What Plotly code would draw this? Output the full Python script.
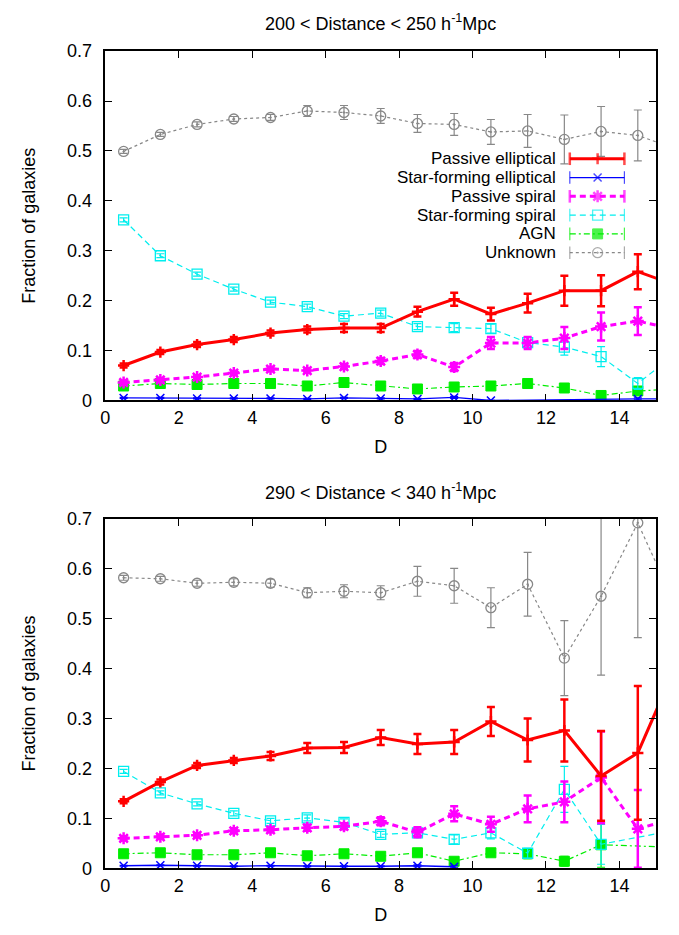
import plotly.graph_objects as go

# ---------------- data ----------------
D = [0.5, 1.5, 2.5, 3.5, 4.5, 5.5, 6.5, 7.5, 8.5, 9.5, 10.5, 11.5, 12.5, 13.5, 14.5, 15.5]

# Panel 1: 200 < Distance < 250
p1_pe = [0.070, 0.097, 0.112, 0.122, 0.135, 0.142, 0.145, 0.145, 0.178, 0.203, 0.173, 0.195, 0.220, 0.220, 0.258, 0.232]
p1_pe_err = [0.004, 0.004, 0.005, 0.005, 0.005, 0.006, 0.008, 0.008, 0.010, 0.013, 0.013, 0.019, 0.030, 0.031, 0.035, 0.04]
p1_sfe = [0.005, 0.005, 0.004, 0.004, 0.004, 0.003, 0.005, 0.004, 0.003, 0.006, 0.000, None, None, None, 0.003, 0.003]
p1_sfe_err = [0.001, 0.001, 0.001, 0.001, 0.001, 0.001, 0.001, 0.001, 0.001, 0.002, 0.0, 0, 0, 0, 0.002, 0.002]
p1_ps = [0.036, 0.041, 0.047, 0.055, 0.063, 0.060, 0.068, 0.079, 0.092, 0.067, 0.115, 0.115, 0.125, 0.148, 0.159, 0.143]
p1_ps_err = [0.003, 0.003, 0.003, 0.004, 0.004, 0.004, 0.005, 0.006, 0.007, 0.008, 0.012, 0.012, 0.022, 0.028, 0.028, 0.03]
p1_sfs = [0.362, 0.290, 0.253, 0.223, 0.197, 0.188, 0.169, 0.175, 0.148, 0.146, 0.144, 0.116, 0.107, 0.088, 0.034, 0.092]
p1_sfs_err = [0.004, 0.004, 0.004, 0.004, 0.004, 0.005, 0.005, 0.006, 0.006, 0.008, 0.009, 0.011, 0.016, 0.020, 0.012, 0.02]
p1_agn = [0.029, 0.034, 0.032, 0.034, 0.034, 0.029, 0.036, 0.029, 0.023, 0.027, 0.029, 0.034, 0.025, 0.010, 0.019, 0.023]
p1_agn_err = [0.002, 0.002, 0.002, 0.002, 0.002, 0.002, 0.003, 0.003, 0.003, 0.003, 0.004, 0.004, 0.005, 0.004, 0.006, 0.006]
p1_unk = [0.499, 0.533, 0.553, 0.564, 0.567, 0.580, 0.577, 0.570, 0.555, 0.553, 0.538, 0.540, 0.523, 0.539, 0.531, 0.505]
p1_unk_err = [0.004, 0.004, 0.005, 0.005, 0.006, 0.011, 0.014, 0.015, 0.018, 0.022, 0.025, 0.033, 0.049, 0.050, 0.051, 0.06]

# Panel 2: 290 < Distance < 340
p2_pe = [0.134, 0.173, 0.206, 0.216, 0.225, 0.241, 0.242, 0.262, 0.249, 0.253, 0.294, 0.257, 0.276, 0.185, 0.231, 0.400]
p2_pe_err = [0.004, 0.005, 0.005, 0.005, 0.008, 0.010, 0.011, 0.015, 0.020, 0.024, 0.029, 0.043, 0.062, 0.090, 0.134, 0.15]
p2_sfe = [0.005, 0.006, 0.005, 0.004, 0.005, 0.004, 0.004, 0.004, 0.005, 0.003, None, None, None, None, None, None]
p2_sfe_err = [0.001, 0.001, 0.001, 0.001, 0.001, 0.001, 0.001, 0.001, 0.002, 0.002, 0, 0, 0, 0, 0, 0]
p2_ps = [0.060, 0.063, 0.066, 0.075, 0.077, 0.081, 0.084, 0.094, 0.072, 0.109, 0.088, 0.119, 0.133, 0.182, 0.079, 0.100]
p2_ps_err = [0.004, 0.004, 0.004, 0.005, 0.005, 0.006, 0.006, 0.008, 0.010, 0.015, 0.015, 0.027, 0.041, 0.092, 0.078, 0.08]
p2_sfs = [0.194, 0.151, 0.129, 0.110, 0.095, 0.101, 0.092, 0.068, 0.071, 0.058, 0.071, 0.030, 0.158, 0.048, None, 0.076]
p2_sfs_err = [0.004, 0.004, 0.004, 0.005, 0.005, 0.006, 0.007, 0.006, 0.008, 0.009, 0.012, 0.010, 0.046, 0.040, 0, 0.04]
p2_agn = [0.029, 0.031, 0.027, 0.027, 0.031, 0.025, 0.029, 0.024, 0.031, 0.014, 0.031, 0.029, 0.014, 0.047, None, 0.042]
p2_agn_err = [0.002, 0.002, 0.002, 0.002, 0.003, 0.003, 0.003, 0.003, 0.004, 0.004, 0.007, 0.010, 0.010, 0.045, 0, 0.04]
p2_unk = [0.582, 0.580, 0.571, 0.573, 0.571, 0.552, 0.555, 0.552, 0.575, 0.566, 0.522, 0.569, 0.421, 0.545, 0.692, 0.530]
p2_unk_err = [0.005, 0.005, 0.006, 0.007, 0.008, 0.010, 0.013, 0.014, 0.030, 0.035, 0.040, 0.064, 0.075, 0.158, 0.230, 0.2]

names = ["Passive elliptical", "Star-forming elliptical", "Passive spiral",
         "Star-forming spiral", "AGN", "Unknown"]

styles = [
    dict(color="#ff0000", width=3.0, dash="solid", symbol="cross-thin-open", size=8, ew=2.5, mlw=2.5),
    dict(color="#0000ff", width=1.3, dash="solid", symbol="x-thin-open", size=8, ew=1.2, mlw=1.5),
    dict(color="#ff00ff", width=3.0, dash="6px,4px", symbol="asterisk-open", size=10, ew=2.5, mlw=2.5),
    dict(color="#00eeee", width=1.2, dash="6px,4px", symbol="square-open", size=10, ew=1.2, mlw=1.3),
    dict(color="#00ee00", width=1.2, dash="6px,3px,2px,3px", symbol="square", size=10, ew=1.2, mlw=1),
    dict(color="#888888", width=1.2, dash="dot", symbol="circle-open-dot", size=10, ew=1.2, mlw=1.3),
]

panel1 = [(p1_pe, p1_pe_err), (p1_sfe, p1_sfe_err), (p1_ps, p1_ps_err),
          (p1_sfs, p1_sfs_err), (p1_agn, p1_agn_err), (p1_unk, p1_unk_err)]
panel2 = [(p2_pe, p2_pe_err), (p2_sfe, p2_sfe_err), (p2_ps, p2_ps_err),
          (p2_sfs, p2_sfs_err), (p2_agn, p2_agn_err), (p2_unk, p2_unk_err)]

W, H = 679, 935
XL, XR = 101, 656          # plot area, pixels
T1, B1 = 42, 399           # top panel
T2, B2 = 520, 877          # bottom panel
XMAX, YMAX = 15, 0.7

FONT = "Liberation Sans, Arial, Helvetica, sans-serif"
FS = 18

fig = go.Figure()
order = [5, 4, 3, 2, 1, 0]


def add_panel(panel, xa, ya):
    for i in order:
        y, e = panel[i]
        s = styles[i]
        fig.add_trace(go.Scatter(
            x=D, y=y, name=names[i], mode="lines+markers",
            xaxis=xa, yaxis=ya, connectgaps=True, showlegend=False,
            line=dict(color=s["color"], width=s["width"], dash=s["dash"]),
            marker=dict(symbol=s["symbol"], size=s["size"], color=s["color"],
                        line=dict(color=s["color"], width=s["mlw"])),
            error_y=dict(type="data", array=e, visible=True, color=s["color"],
                         thickness=s["ew"], width=4),
        ))


add_panel(panel1, "x", "y")
add_panel(panel2, "x2", "y2")

# ---- gnuplot-style key (text on the left, sample on the right) ----
def px_to_x(px):
    return (px - XL) / (XR - XL) * XMAX


def py_to_y(py):
    return (B1 - py) / (B1 - T1) * YMAX


KEY_FS = 17
key_rows = [152 + 19.2 * k for k in range(6)]
key_x0, key_xm, key_x1, key_text = 569, 597, 624, 556
for i, row in enumerate(key_rows):
    s = styles[i]
    fig.add_trace(go.Scatter(
        x=[px_to_x(key_x0), px_to_x(key_xm), px_to_x(key_x1)],
        y=[py_to_y(row)] * 3, mode="lines+markers", xaxis="x", yaxis="y",
        showlegend=False, hoverinfo="skip", cliponaxis=False,
        line=dict(color=s["color"], width=s["width"], dash=s["dash"]),
        marker=dict(symbol=["line-ns", s["symbol"], "line-ns"],
                    size=[9, s["size"], 9], color=s["color"],
                    line=dict(color=s["color"], width=[s["ew"], s["mlw"], s["ew"]])),
    ))
    fig.add_annotation(text=names[i], xref="paper", yref="paper",
                       x=key_text / W, y=1 - row / H, xanchor="right", yanchor="middle",
                       showarrow=False, borderpad=0,
                       font=dict(size=KEY_FS, family=FONT, color="black"))

xdom = [XL / W, XR / W]
top_dom = [1 - B1 / H, 1 - T1 / H]
bot_dom = [1 - B2 / H, 1 - T2 / H]

tfont = dict(family=FONT, size=FS, color="black")
axis_common = dict(showline=True, linecolor="black", linewidth=1.5, mirror="ticks",
                   ticks="inside", ticklen=7, tickcolor="black", tickwidth=1,
                   showgrid=False, zeroline=False, tickfont=tfont)
xtitle = dict(text="D", font=tfont, standoff=14)
ytitle = dict(text="Fraction of galaxies", font=tfont, standoff=27)

fig.update_layout(
    width=W, height=H,
    margin=dict(l=0, r=0, t=0, b=0),
    paper_bgcolor="white", plot_bgcolor="white",
    font=dict(family=FONT, size=FS, color="black"),
    xaxis=dict(domain=xdom, range=[0, XMAX], dtick=2, anchor="y", title=xtitle, **axis_common),
    yaxis=dict(domain=top_dom, range=[0, YMAX], dtick=0.1, anchor="x",
               ticklabelstandoff=8, title=ytitle, **axis_common),
    xaxis2=dict(domain=xdom, range=[0, XMAX], dtick=2, anchor="y2", title=xtitle, **axis_common),
    yaxis2=dict(domain=bot_dom, range=[0, YMAX], dtick=0.1, anchor="x2",
                ticklabelstandoff=8, title=ytitle, **axis_common),
    showlegend=False,
)

cx = (xdom[0] + xdom[1]) / 2
for txt, yy in [("200 &lt; Distance &lt; 250 h<sup>-1</sup>Mpc", 13),
                ("290 &lt; Distance &lt; 340 h<sup>-1</sup>Mpc", 492)]:
    fig.add_annotation(text=txt, x=cx, y=1 - yy / H, xref="paper", yref="paper",
                       showarrow=False, xanchor="center", yanchor="middle",
                       font=dict(size=FS, family=FONT, color="black"))

fig.write_html("out.html", config={"displayModeBar": False},
               post_script="document.body.style.margin='0';document.body.style.overflow='hidden';")
